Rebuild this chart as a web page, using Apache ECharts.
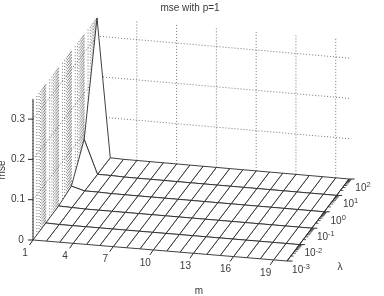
<!DOCTYPE html>
<html><head><meta charset="utf-8">
<style>html,body{margin:0;padding:0;background:#fff}#c{width:384px;height:296px;filter:blur(0.3px)}</style>
<script src="https://cdn.jsdelivr.net/npm/echarts@6/dist/echarts.min.js"></script>
</head><body><div id="c"></div>
<script>
// ---- data ----
const mValues = [1,2,3,4,5,6,7,8,9,10,11,12,13,14,15,16,17,18,19,20];
const lambdaExponents = [-3,-2,-1,0,1,2];
const mseLambda1e_3 = [0,0,0,0,0,0,0,0,0,0,0,0,0,0,0,0,0,0,0,0];
const mseLambda1e_2 = [0.001,0,0,0,0,0,0,0,0,0,0,0,0,0,0,0,0,0,0,0];
const mseLambda1e_1 = [0.002,0.001,0,0,0,0,0,0,0,0,0,0,0,0,0,0,0,0,0,0];
const mseLambda1e0  = [0.010,0.001,0.001,0,0,0,0,0,0,0,0,0,0,0,0,0,0,0,0,0];
const mseLambda1e1  = [0.085,0.001,0.001,0,0,0,0,0,0,0,0,0,0,0,0,0,0,0,0,0];
const mseLambda1e2  = [0.345,0.001,0,0,0,0,0,0,0,0,0,0,0,0,0,0,0,0,0,0];
const mTicks = [1,4,7,10,13,16,19];
const zTicks = [0,0.1,0.2,0.3];
const zTickLabels = ['0','0.1','0.2','0.3'];
const titleText = 'mse with p=1';

const rows = [mseLambda1e_3,mseLambda1e_2,mseLambda1e_1,mseLambda1e0,mseLambda1e1,mseLambda1e2];
const zMax = 0.35;
const minorMult = [2,3,4,5,6,7,8,9];

// view of the 3D box: floor corners on the page and height scale
const view = {fl:[33,240], fr:[287,261], br:[349,179], bl:[97,157], zScale:403};
function proj(m, e, z){
  const u=(m-1)/19, v=(e+3)/5;
  const x=(1-v)*((1-u)*view.fl[0]+u*view.fr[0])+v*((1-u)*view.bl[0]+u*view.br[0]);
  const y=(1-v)*((1-u)*view.fl[1]+u*view.fr[1])+v*((1-u)*view.bl[1]+u*view.br[1]);
  return [x, y-z*view.zScale];
}

const INK='#2a2a2a', GRID='#666', TXT='#3a3a3a';
const FONT='"Liberation Sans",Arial,sans-serif';

function seg(api,a,b,style){
  const p=api.coord(a), q=api.coord(b);
  return {type:'line',shape:{x1:p[0],y1:p[1],x2:q[0],y2:q[1]},style:style};
}
function txt(api,a,str,extra){
  const p=api.coord(a);
  return {type:'text',x:p[0],y:p[1],rotation:(extra&&extra.rotation)||0,
    style:{text:str,fill:TXT,font:'10px '+FONT,align:'center',verticalAlign:'middle',rich:(extra&&extra.rich)||undefined}};
}
const dot={stroke:GRID,lineWidth:0.9,lineDash:[1,2],fill:null};
const solid={stroke:INK,lineWidth:1,fill:null};

// walls
const wallExp=[]; 
lambdaExponents.forEach(e=>{wallExp.push(e); if(e<2) minorMult.forEach(k=>wallExp.push(e+Math.log10(k)));});
const wallSeries={type:'custom',coordinateSystem:'cartesian2d',silent:true,animation:false,clip:false,
  data:[[0,0]],encode:{x:0,y:1},
  renderItem:function(p,api){
    const ch=[];
    wallExp.forEach(e=>ch.push(seg(api,proj(1,e,0),proj(1,e,zMax),dot)));
    zTicks.slice(1).forEach(z=>{
      ch.push(seg(api,proj(1,-3,z),proj(1,2,z),dot));
      ch.push(seg(api,proj(1,2,z),proj(20,2,z),dot));
    });
    mTicks.slice(1).forEach(m=>ch.push(seg(api,proj(m,2,0),proj(m,2,zMax),dot)));
    return {type:'group',children:ch};
  }};

// surface cells back to front
const cells=[];
for(let j=lambdaExponents.length-2;j>=0;j--) for(let i=mValues.length-2;i>=0;i--) cells.push([i,j]);
const surfaceSeries={type:'custom',coordinateSystem:'cartesian2d',silent:true,animation:false,clip:false,
  data:cells,encode:{x:0,y:1},
  renderItem:function(p,api){
    const i=api.value(0), j=api.value(1);
    const corner=(a,b)=>api.coord(proj(mValues[a],lambdaExponents[b],rows[b][a]));
    return {type:'polygon',shape:{points:[corner(i,j),corner(i+1,j),corner(i+1,j+1),corner(i,j+1)]},
      style:{fill:'#fff',stroke:INK,lineWidth:0.9,lineJoin:'round'}};
  }};

// axes lines, ticks, labels
const axisSeries={type:'custom',coordinateSystem:'cartesian2d',silent:true,animation:false,clip:false,
  data:[[0,0]],encode:{x:0,y:1},
  renderItem:function(p,api){
    const ch=[];
    // z axis
    ch.push(seg(api,proj(1,-3,0),proj(1,-3,zMax),solid));
    zTicks.forEach((z,i)=>{
      const a=proj(1,-3,z);
      ch.push(seg(api,a,[a[0]-5,a[1]],solid));
      ch.push(txt(api,[a[0]-(z===0?12:15),a[1]],zTickLabels[i]));
    });
    // m ticks
    mTicks.forEach(m=>{
      const a=proj(m,-3,0);
      ch.push(seg(api,a,[a[0]-3.5,a[1]+5],solid));
      ch.push(txt(api,[a[0]-8,a[1]+13],String(m)));
    });
    // lambda ticks
    ch.push(seg(api,proj(20,-3,0),proj(20,2,0),solid));
    const rich={b:{font:'10px '+FONT,fill:TXT},s:{font:'7.5px '+FONT,fill:TXT,padding:[0,0,6,0]}};
    lambdaExponents.forEach(e=>{
      const a=proj(20,e,0);
      ch.push(seg(api,a,[a[0]+5.5,a[1]],solid));
      const t=txt(api,[a[0]+14,a[1]+9],'{b|10}{s|'+e+'}',{rich:rich});
      ch.push(t);
      if(e<2) minorMult.forEach(k=>{
        const b=proj(20,e+Math.log10(k),0);
        ch.push(seg(api,b,[b[0]+3,b[1]],{stroke:INK,lineWidth:0.8,fill:null}));
      });
    });
    ch.push(txt(api,[190,8],titleText));
    ch.push(txt(api,[199,291],'m'));
    ch.push(txt(api,[340,267],'λ'));
    ch.push(txt(api,[2.5,170],'mse',{rotation:Math.PI/2}));
    return {type:'group',children:ch};
  }};

const chart=echarts.init(document.getElementById('c'),null,{renderer:'canvas'});
chart.setOption({
  animation:false,backgroundColor:'#fff',
  grid:{left:0,right:0,top:0,bottom:0,containLabel:false},
  xAxis:{type:'value',min:0,max:384,show:false},
  yAxis:{type:'value',min:0,max:296,inverse:true,show:false},
  series:[wallSeries,surfaceSeries,axisSeries]
});
</script></body></html>
